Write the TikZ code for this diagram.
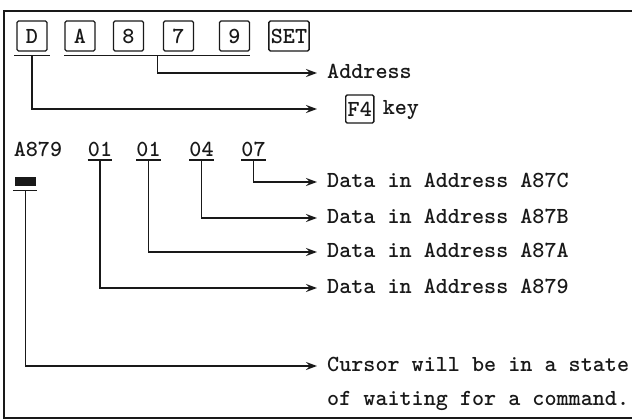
\documentclass[tikz,border=0pt]{standalone}
\usepackage{tikz}
\usetikzlibrary{arrows.meta,positioning,calc}
\definecolor{inkblack}{RGB}{25,25,25}

\begin{document}
\begin{tikzpicture}[x=1pt,y=-1pt,
    every node/.style={font=\ttfamily\bfseries\fontsize{23}{27}\selectfont, text=inkblack},
    keycap/.style={draw=inkblack, line width=1.4pt, rounded corners=1.5pt,
        minimum width=30pt, minimum height=30pt, inner xsep=2pt, inner ysep=0pt},
    lbl/.style={anchor=west, inner xsep=10pt, inner ysep=4pt,
        text height=15pt, text depth=4pt},
    val/.style={anchor=south, inner xsep=0pt, inner ysep=3pt},
    uline/.style={draw=inkblack, line width=1.5pt},
    conn/.style={draw=inkblack, line width=1.4pt,
        -{Stealth[length=11pt,width=8pt,inset=4pt]}},
    frame/.style={draw=inkblack, line width=1.8pt}]
\useasboundingbox (0,0) rectangle (632,420);
% frame, open on the right
\draw[frame] (632,11) -- (4,11) -- (4,418) -- (632,418);

% keys pressed
\node[keycap] (kD) at (32,36) {D};
\node[keycap] (kA) at (80,36) {A};
\node[keycap] (k8) at (128.5,36) {8};
\node[keycap] (k7) at (178.5,36) {7};
\node[keycap] (k9) at (234.5,36) {9};
\node[keycap] (kSET) at (289,36) {SET};
\draw[uline] ([xshift=-2pt,yshift=-4pt]kD.south west) -- ([xshift=2pt,yshift=-4pt]kD.south east);
\draw[uline] ([yshift=-4pt]kA.south west) -- ([yshift=-4pt]k9.south east);
\coordinate (uD) at ($(kD.south)+(0,4)$);
\coordinate (uAddr) at ($(kA.south)!0.5!(k9.south)+(0,4)$);

\node[lbl] (addr) at (317,73) {Address};
\coordinate (f4in) at (317,109);
\node[keycap, minimum width=28pt, minimum height=28pt, anchor=west] (kF4) at (345,109) {F4};
\node[lbl, right=0pt of kF4, inner xsep=8pt] (key) {key};
\draw[conn] (uAddr) |- (addr.west);
\draw[conn] (uD) |- (f4in);

% display line
\node[val] (adr) at (38,160) {A879};
\node[val] (d1) at (100,160) {01};
\node[val] (d2) at (148.5,160) {01};
\node[val] (d3) at (201.5,160) {04};
\node[val] (d4) at (253.5,160) {07};
\foreach \d in {d1,d2,d3,d4}
    \draw[uline] (\d.south west) -- (\d.south east);
\node[fill=inkblack, minimum width=21pt, minimum height=9pt, inner sep=0pt] (blk) at (25.5,181) {};
\draw[uline] ([xshift=-2pt,yshift=-5pt]blk.south west) -- ([xshift=1pt,yshift=-5pt]blk.south east);
\coordinate (ublk) at ($(blk.south)+(0,5)$);

\node[lbl] (lC) at (317,182) {Data in Address A87C};
\node[lbl] (lB) at (317,218) {Data in Address A87B};
\node[lbl] (lA) at (317,252) {Data in Address A87A};
\node[lbl] (l9) at (317,288) {Data in Address A879};
\node[lbl] (cur) at (317,366) {Cursor will be in a state};
\node[lbl, below=7pt of cur.south west, anchor=north west] (cur2) {of waiting for a command.};

\draw[conn] (d4.south) |- (lC.west);
\draw[conn] (d3.south) |- (lB.west);
\draw[conn] (d2.south) |- (lA.west);
\draw[conn] (d1.south) |- (l9.west);
\draw[conn] (ublk) |- (cur.west);
\end{tikzpicture}
\end{document}
